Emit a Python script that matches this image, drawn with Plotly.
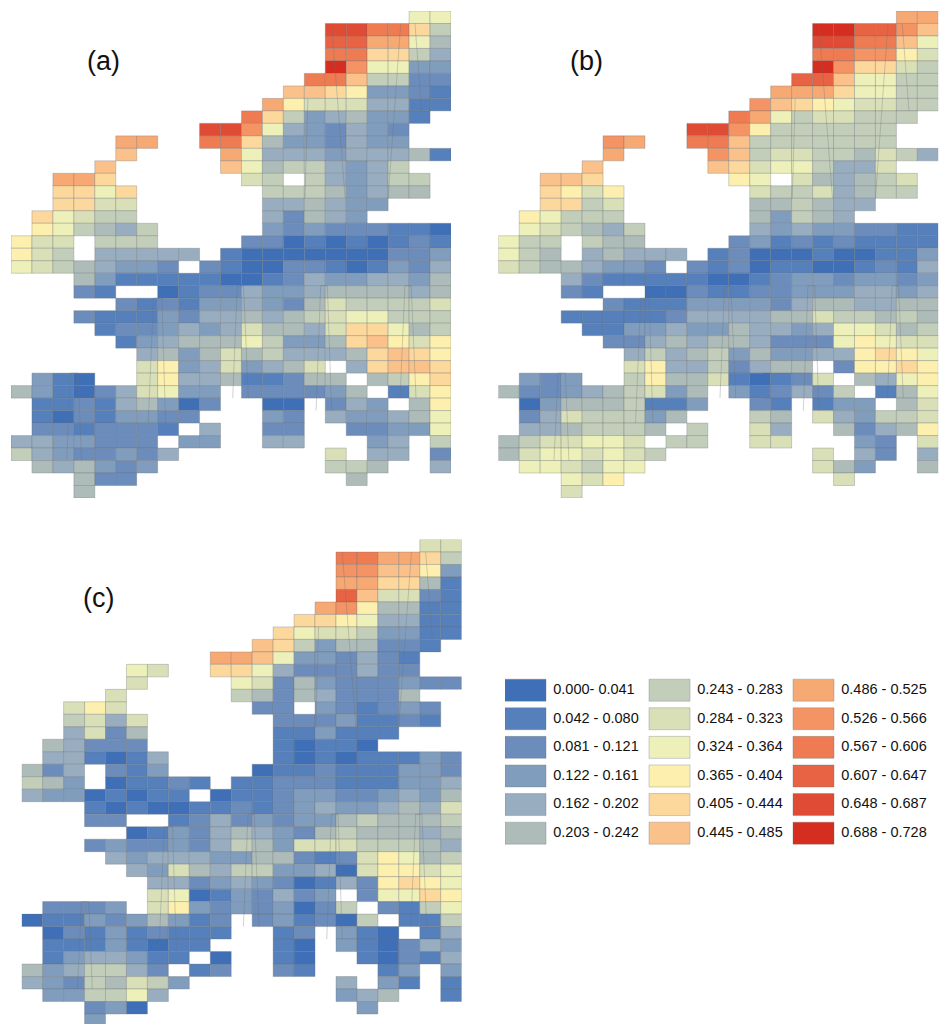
import plotly.graph_objects as go

W, H = 941, 1024
CODES = "0123456789abcdefgh"
class_labels = ["0.000- 0.041", "0.042 - 0.080", "0.081 - 0.121", "0.122 - 0.161", "0.162 - 0.202", "0.203 - 0.242",
                "0.243 - 0.283", "0.284 - 0.323", "0.324 - 0.364", "0.365 - 0.404", "0.405 - 0.444", "0.445 - 0.485",
                "0.486 - 0.525", "0.526 - 0.566", "0.567 - 0.606", "0.607 - 0.647", "0.648 - 0.687", "0.688 - 0.728"]
class_colors = ["#3f70b7", "#5580bb", "#6c8cbb", "#819dbd", "#98adc0", "#aebcb9",
                "#c3ceba", "#d9e0b8", "#edf1b9", "#fdf0ae", "#fdd89c", "#fbc18a",
                "#f7a974", "#f49363", "#ef7b52", "#e76343", "#df4b34", "#d52d20"]

# class code per cell: rows north to south, columns west to east, "." = no data
panel_a = [
"...................88", "...............ggeea6", "...............ffcc85", "...............eeaa64",
"...............hd8833", "..............eeb6622", ".............bba93321", "............c97774411",
"...........ea6345331.", ".........ggd8432432..", ".....cc..eea5332433..", ".....b....c8444344451",
"....b.....b85664346..", "..cca......76.643466.", "..aa8a......66653455.", "..aa77......445433...",
".a8766......42543....", ".986546.....323222110", "977.666....2201010121", "976.44444.10000000223",
"87654332.210022101324", "...531111100124334435", "...21..01224334555545", ".....2121334325766667",
"...211132445456788666", "....122343475547aa856", ".....13455586335ab979", "......45357564445aba9",
"......793473457.4abba", ".310..7944511255.569a", "5310247833.222235.179", ".112145302..00.243.59",
".10213322...32.433458", ".2212221.4..22..22338", "4433222.33..44...34.6", "64322324.......7.44.2",
".545323........665..4", "...522..........5....", "...5................."]
panel_b = [
"...................cc", "...............hhffdb", "...............ggeeb8", "...............eedd97",
"...............hdaa76", "..............ffb8866", ".............ccca8866", "............dba987766",
"...........ec8677666.", ".........ggd9666666..", ".....dc..eeb6666666..", ".....c....db677665764",
"....b.....ba7886447..", "..bba......98.754567.", "..a979......76674566.", "..aa67......556544...",
".98666......53654....", ".876546.....434332211", "866.655....2312121111", "865.45444.12000100113",
"76554332.212011001214", "...421111100123323323", "...21..00211223334434", ".....2111333324554455",
"...111112444455766565", "....11334335443488756", ".....2245455422289877", "......464563533449a98",
"......794462455.299a9", ".323..6955710127.5489", "5223456735.312426.158", ".035556113..21.133.57",
".24766635...65.743667", ".4456665.6..74..52459", "5677887.66..77...32.7", "57887876.......7.42.4",
".887688........753..5", "...879..........7....", "...7................."]
panel_c = [
"...................77", "...............eecca6", "...............ddbb93", "...............ccaa51",
"...............fb7721", "..............cd95511", ".............aa984411", "............a87763311",
"...........ba6355221.", ".........ccb8332421..", ".....87..aa84222422..", ".....7....87253222322",
"....7.....652542225..", "..797......22.321232.", "..6747......22231121.", "..4725......113111...",
".54222......10110....", ".441014.....101011132", "524.213....0112111332", "653.01121.11222111334",
"43301011.011233223435", "...101001121234334547", "...22..12423233565556", ".....0132454325655545",
"...232232465377766654", "....43444335521279856", ".....4375466334079978", "......442343201429a98",
"......780132423.288a9", ".2223.7932323026.2168", "0113235312.231206.116", ".021312111..12.310.14",
".11131011...10.310243", ".1344311.0..10..10214", "5346642.12..21...13.3", "43265763.......4.31.1",
".336684........345..1", "...230..........3....", "...3................."]

# thin slanted seams of the grid (columns, rows)
seam_cols = [[10.58, 10.8, 11.1, 11.33], [14.56, 14.78, 15.1, 15.3], [18.57, 18.8, 19.1, 19.33],
             [6.55, 6.8, 7.2, 7.38], [2.66, 2.85, 3.2, 3.37],
             [18.6, 18.0], [19.28, 19.6], [15.3, 15.95], [14.17, 14.03]]
seam_rows = [[31, 22, 22, 31], [32, 22, 22, 32], [31, 22, 22, 31],
             [33, 23, 23, 33], [36, 29, 29, 36],
             [1, 15], [1, 8], [1, 15], [7, 15]]

n_cols, n_rows = 21, 39
panels = [("x", "y", panel_a, 11.0, 11.0, "(a)", 103, 61),
          ("x2", "y2", panel_b, 498.3, 11.0, "(b)", 586, 61),
          ("x3", "y3", panel_c, 21.7, 539.5, "(c)", 98, 598)]
EDGE = "rgba(105,110,115,0.45)"
panel_w, row_h = 440.0, 12.487

fig = go.Figure()
layout = dict(width=W, height=H, margin=dict(l=0, r=0, t=0, b=0), autosize=False,
              paper_bgcolor="white", plot_bgcolor="rgba(0,0,0,0)", showlegend=False,
              barmode="overlay", annotations=[], hovermode=False)

for xa, ya, rows, px, py, title, tx, ty in panels:
    xs, bases, cols = [], [], []
    for r, row in enumerate(rows):
        for c, ch in enumerate(row):
            if ch != ".":
                xs.append(c + 0.5)
                bases.append(r)
                cols.append(class_colors[CODES.index(ch)])
    fig.add_trace(go.Bar(x=xs, y=[1] * len(xs), base=bases, width=1, xaxis=xa, yaxis=ya,
                         marker=dict(color=cols, line=dict(color=EDGE, width=0.7)), cliponaxis=True))
    for sx, sy in zip(seam_cols, seam_rows):
        fig.add_trace(go.Scatter(x=sx, y=sy, mode="lines", xaxis=xa, yaxis=ya,
                                 line=dict(color=EDGE, width=0.7), cliponaxis=False))
    key = xa.replace("x", "xaxis"); ykey = ya.replace("y", "yaxis")
    bottom = min(H, py + n_rows * row_h)
    layout[key] = dict(domain=[px / W, (px + panel_w) / W], range=[0, n_cols], visible=False, anchor=ya, fixedrange=True)
    layout[ykey] = dict(domain=[1 - bottom / H, 1 - py / H], range=[(bottom - py) / row_h, 0], visible=False, anchor=xa, fixedrange=True)
    layout["annotations"].append(dict(text=title, x=tx / W, y=1 - ty / H, xref="paper", yref="paper", showarrow=False,
                                      xanchor="center", yanchor="middle",
                                      font=dict(family="Liberation Sans, Arial", size=27, color="#111")))

# legend drawn on its own axes: column 0-2, row 0-5
leg_x, leg_y, leg_pitch_x, leg_pitch_y = 505.0, 676.0, 144.0, 28.6
lx, lrow, lcol = [], [], []
for i, col in enumerate(class_colors):
    lx.append(i // 6 + 0.1424)
    lrow.append(i % 6 + 0.11)
    lcol.append(col)
fig.add_trace(go.Bar(x=lx, y=[0.77] * 18, base=lrow, width=0.285, xaxis="x4", yaxis="y4",
                     marker=dict(color=lcol, line=dict(color=EDGE, width=0.7))))
fig.add_trace(go.Scatter(x=[i // 6 + 0.335 for i in range(18)], y=[i % 6 + 0.5 for i in range(18)],
                         text=class_labels, mode="text", textposition="middle right", xaxis="x4", yaxis="y4",
                         textfont=dict(family="Liberation Sans, Arial", size=14.5, color="#111")))
layout["xaxis4"] = dict(domain=[leg_x / W, min(1.0, (leg_x + 3 * leg_pitch_x) / W)],
                        range=[0, (min(W, leg_x + 3 * leg_pitch_x) - leg_x) / leg_pitch_x],
                        visible=False, anchor="y4", fixedrange=True)
layout["yaxis4"] = dict(domain=[1 - (leg_y + 6 * leg_pitch_y) / H, 1 - leg_y / H], range=[6, 0],
                        visible=False, anchor="x4", fixedrange=True)
fig.update_layout(**layout)
fig.write_html("out.html", post_script="document.body.style.margin='0';document.documentElement.style.overflow='hidden';",
               config={"displayModeBar": False})
